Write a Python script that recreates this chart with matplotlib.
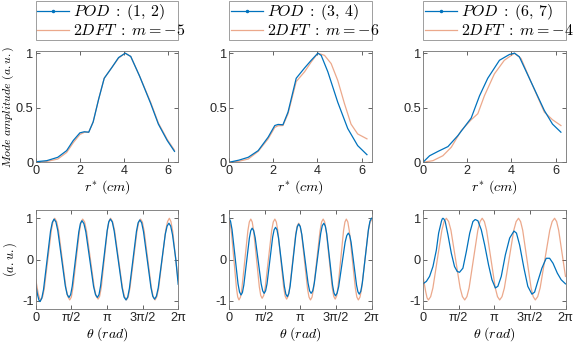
import matplotlib
matplotlib.use('Agg')
import matplotlib.pyplot as plt
from matplotlib.lines import Line2D
import numpy as np

plt.rcParams['font.family'] = ['Liberation Sans', 'DejaVu Sans']
plt.rcParams['mathtext.fontset'] = 'cm'

BLUE = '#0072BD'
ORANGE = '#D95319'

# leyendas
pod_labels = [r'$POD\;:\;(1,\,2)$', r'$POD\;:\;(3,\,4)$', r'$POD\;:\;(6,\,7)$']
dft_labels = [r'$2DFT\;:\;m=-5$', r'$2DFT\;:\;m=-6$', r'$2DFT\;:\;m=-4$']

# fila superior: amplitud radial vs r*
r_pod_1 = [0, 0.5, 1.0, 1.4, 1.7, 2.0, 2.2, 2.4, 2.6, 2.85, 3.1, 3.45, 3.75, 4.05, 4.3, 4.7, 5.2, 5.55, 5.95, 6.28]
a_pod_1 = [0.005, 0.015, 0.046, 0.107, 0.2, 0.27, 0.28, 0.276, 0.37, 0.58, 0.77, 0.87, 0.96, 1.0, 0.97, 0.79, 0.54, 0.35, 0.2, 0.1]
r_dft_1 = [0, 0.5, 1.0, 1.4, 1.7, 2.0, 2.2, 2.4, 2.6, 2.85, 3.1, 3.45, 3.75, 4.05, 4.3, 4.7, 5.2, 5.55, 5.95, 6.28]
a_dft_1 = [0.0, 0.008, 0.03, 0.09, 0.18, 0.255, 0.275, 0.276, 0.37, 0.58, 0.77, 0.87, 0.955, 1.0, 0.97, 0.79, 0.55, 0.36, 0.21, 0.11]

r_pod_2 = [0, 0.45, 0.87, 1.32, 1.77, 2.07, 2.22, 2.44, 2.67, 3.04, 3.42, 3.72, 4.02, 4.17, 4.47, 4.92, 5.37, 5.82, 6.24]
a_pod_2 = [0, 0.02, 0.046, 0.107, 0.23, 0.337, 0.347, 0.344, 0.46, 0.77, 0.865, 0.935, 1.0, 0.98, 0.83, 0.55, 0.31, 0.153, 0.07]
r_dft_2 = [0, 0.45, 0.87, 1.32, 1.77, 2.07, 2.22, 2.44, 2.67, 3.04, 3.42, 3.72, 4.02, 4.32, 4.62, 4.92, 5.22, 5.52, 5.82, 6.24]
a_dft_2 = [0, 0.01, 0.03, 0.1, 0.215, 0.32, 0.335, 0.337, 0.445, 0.74, 0.83, 0.92, 1.0, 0.98, 0.905, 0.75, 0.54, 0.35, 0.26, 0.215]

r_pod_3 = [0, 0.3, 0.68, 1.13, 1.58, 2.18, 2.56, 2.93, 3.46, 3.91, 4.14, 4.36, 4.89, 5.49, 5.86, 6.24]
a_pod_3 = [0, 0.06, 0.1, 0.144, 0.245, 0.405, 0.61, 0.77, 0.935, 0.988, 1.0, 0.967, 0.736, 0.475, 0.35, 0.276]
r_dft_3 = [0, 0.45, 0.9, 1.28, 1.73, 2.18, 2.48, 2.78, 3.23, 3.68, 4.14, 4.44, 4.89, 5.49, 5.86, 6.24]
a_dft_3 = [0, 0.015, 0.06, 0.138, 0.29, 0.39, 0.445, 0.61, 0.81, 0.935, 1.0, 0.95, 0.736, 0.46, 0.39, 0.337]

# fila inferior: modo azimutal vs theta
t_pod_1 = [0, 0.08, 0.14, 0.19, 0.2675, 0.345, 0.5, 0.655, 0.7325, 0.81, 0.8925, 0.975, 1.14, 1.305, 1.3875, 1.47,
           1.541, 1.61, 1.755, 1.9, 1.969, 2.04, 2.125, 2.21, 2.38, 2.55, 2.635, 2.72, 2.791, 2.86, 3.005, 3.15, 3.219,
           3.29, 3.376, 3.46, 3.635, 3.81, 3.894, 3.98, 4.056, 4.13, 4.285, 4.44, 4.514, 4.59, 4.671, 4.75, 4.915, 5.08,
           5.159, 5.24, 5.319, 5.4, 5.555, 5.71, 5.791, 5.87, 5.95, 6.03, 6.17, 6.28]
m_pod_1 = [-0.6, -0.85, -0.98, -1.02, -0.94, -0.73, -0.02, 0.69, 0.9, 0.98, 0.91, 0.7, 0.03, -0.64, -0.85, -0.92,
           -0.85, -0.65, 0.01, 0.67, 0.87, 0.94, 0.87, 0.67, 0.01, -0.65, -0.85, -0.92, -0.85, -0.64, 0.03, 0.7, 0.91,
           0.98, 0.91, 0.69, 0.0, -0.69, -0.91, -0.98, -0.91, -0.7, -0.01, 0.68, 0.89, 0.96, 0.89, 0.68, 0.0, -0.68,
           -0.89, -0.96, -0.89, -0.69, -0.04, 0.61, 0.81, 0.88, 0.81, 0.6, 0.03, -0.6]
t_dft_1 = [0, 0.11, 0.17, 0.23, 0.306, 0.38, 0.535, 0.69, 0.764, 0.84, 0.9225, 1.005, 1.17, 1.335, 1.4175, 1.5,
           1.571, 1.64, 1.785, 1.93, 1.999, 2.07, 2.155, 2.24, 2.41, 2.58, 2.665, 2.75, 2.819, 2.89, 3.025, 3.16, 3.231,
           3.3, 3.3875, 3.475, 3.65, 3.825, 3.9125, 4.0, 4.0775, 4.155, 4.31, 4.465, 4.5425, 4.62, 4.7, 4.78, 4.94, 5.1,
           5.18, 5.26, 5.339, 5.42, 5.575, 5.73, 5.811, 5.89, 5.96, 6.04, 6.17, 6.28]
m_dft_1 = [-0.48, -0.82, -0.94, -0.98, -0.9, -0.7, 0.01, 0.71, 0.92, 1.0, 0.92, 0.71, 0.01, -0.69, -0.9, -0.98,
           -0.91, -0.69, 0.0, 0.69, 0.91, 0.98, 0.91, 0.69, 0.01, -0.68, -0.89, -0.96, -0.89, -0.68, 0.02, 0.71, 0.93,
           1.0, 0.92, 0.71, 0.01, -0.69, -0.9, -0.98, -0.91, -0.69, 0.0, 0.69, 0.91, 0.98, 0.91, 0.69, 0.0, -0.69,
           -0.91, -0.98, -0.9, -0.69, 0.01, 0.71, 0.92, 1.0, 0.92, 0.68, 0.0, -0.5]

t_pod_2 = [0, 0.066, 0.1325, 0.265, 0.3975, 0.464, 0.53, 0.591, 0.6525, 0.775, 0.8975, 0.959, 1.02, 1.086, 1.1525, 1.285,
           1.4175, 1.484, 1.55, 1.6125, 1.675, 1.8, 1.925, 1.9875, 2.05, 2.115, 2.18, 2.31, 2.44, 2.505, 2.57, 2.6325,
           2.695, 2.82, 2.945, 3.0075, 3.07, 3.139, 3.2075, 3.345, 3.4825, 3.551, 3.62, 3.69, 3.76, 3.9, 4.04, 4.11,
           4.18, 4.244, 4.3075, 4.435, 4.5625, 4.626, 4.69, 4.761, 4.8325, 4.975, 5.1175, 5.189, 5.26, 5.32, 5.38, 5.5,
           5.62, 5.68, 5.74, 5.8075, 5.875, 6.01, 6.145, 6.2125, 6.28]
m_pod_2 = [1.0, 0.93, 0.73, 0.07, -0.59, -0.79, -0.86, -0.8, -0.62, -0.05, 0.52, 0.7, 0.76, 0.7, 0.53, -0.03,
           -0.59, -0.76, -0.82, -0.76, -0.59, -0.02, 0.55, 0.72, 0.78, 0.72, 0.53, -0.06, -0.65, -0.84, -0.9, -0.83,
           -0.64, -0.02, 0.6, 0.79, 0.86, 0.8, 0.61, 0.02, -0.57, -0.76, -0.82, -0.76, -0.57, 0.03, 0.63, 0.82,
           0.88, 0.81, 0.62, 0.0, -0.62, -0.81, -0.88, -0.82, -0.66, -0.12, 0.42, 0.58, 0.64, 0.58, 0.42, -0.1,
           -0.62, -0.78, -0.84, -0.77, -0.57, 0.08, 0.73, 0.93, 1.0]
t_dft_2 = [0, 0.055, 0.11, 0.22, 0.33, 0.385, 0.44, 0.505, 0.57, 0.7, 0.83, 0.895, 0.96, 1.0225, 1.085, 1.21,
           1.335, 1.3975, 1.46, 1.53, 1.6, 1.74, 1.88, 1.95, 2.02, 2.085, 2.15, 2.28, 2.41, 2.475, 2.54, 2.606,
           2.6725, 2.805, 2.9375, 3.004, 3.07, 3.135, 3.2, 3.33, 3.46, 3.525, 3.59, 3.66, 3.73, 3.87, 4.01, 4.08,
           4.15, 4.216, 4.2825, 4.415, 4.5475, 4.614, 4.68, 4.741, 4.8025, 4.925, 5.0475, 5.109, 5.17, 5.236, 5.3025, 5.435,
           5.5675, 5.634, 5.7, 5.7725, 5.845, 5.99, 6.135, 6.2075, 6.28]
m_dft_2 = [0.92, 0.85, 0.64, -0.03, -0.7, -0.91, -0.98, -0.91, -0.69, 0.0, 0.69, 0.91, 0.98, 0.91, 0.7, 0.02,
           -0.66, -0.87, -0.94, -0.87, -0.66, 0.02, 0.7, 0.91, 0.98, 0.91, 0.7, 0.01, -0.68, -0.89, -0.96, -0.89,
           -0.69, -0.04, 0.61, 0.81, 0.88, 0.81, 0.61, -0.05, -0.71, -0.91, -0.98, -0.91, -0.69, 0.0, 0.69, 0.91,
           0.98, 0.91, 0.7, 0.01, -0.68, -0.89, -0.96, -0.89, -0.67, 0.01, 0.7, 0.91, 0.98, 0.91, 0.69, 0.0,
           -0.69, -0.91, -0.98, -0.91, -0.7, -0.01, 0.68, 0.89, 0.96]

t_pod_3 = [0, 0.15, 0.29, 0.44, 0.59, 0.69, 0.81, 0.845, 0.88, 0.925, 0.98, 1.1, 1.25, 1.39, 1.51, 1.61, 1.76, 1.91,
           2.06, 2.2, 2.3, 2.42, 2.57, 2.72, 2.89, 3.04, 3.19, 3.3, 3.45, 3.63, 3.82, 4.01, 4.12, 4.26, 4.45, 4.62,
           4.8, 4.92, 5.06, 5.24, 5.43, 5.58, 5.73, 5.92, 6.09, 6.28]
m_pod_3 = [-0.59, -0.53, -0.41, -0.17, 0.23, 0.64, 0.92, 0.98, 1.0, 0.98, 0.92, 0.6, 0.15, -0.17, -0.29, -0.31, -0.21, 0.19,
           0.64, 0.92, 0.97, 0.94, 0.72, 0.35, -0.13, -0.49, -0.69, -0.65, -0.41, 0.11, 0.52, 0.69, 0.64, 0.35, -0.21, -0.65,
           -0.84, -0.79, -0.53, -0.21, 0.03, 0.03, -0.09, -0.33, -0.49, -0.59]
t_dft_3 = [0, 0.12, 0.18, 0.24, 0.339, 0.4375, 0.635, 0.8325, 0.931, 1.03, 1.131, 1.2325, 1.435, 1.6375, 1.739, 1.84,
           1.936, 2.0325, 2.225, 2.4175, 2.514, 2.61, 2.706, 2.8025, 2.995, 3.1875, 3.284, 3.38, 3.484, 3.5875, 3.795,
           4.0025, 4.106, 4.21, 4.3025, 4.395, 4.58, 4.765, 4.8575, 4.95, 5.056, 5.1625, 5.375, 5.5875, 5.694,
           5.8, 5.89, 5.98, 6.17, 6.28]
m_dft_3 = [-0.41, -0.78, -0.93, -0.98, -0.9, -0.69, 0.01, 0.71, 0.92, 1.0, 0.92, 0.71, 0.01, -0.69, -0.9, -0.98,
           -0.9, -0.69, 0.01, 0.71, 0.92, 1.0, 0.92, 0.71, 0.01, -0.69, -0.9, -0.98, -0.9, -0.69, 0.01,
           0.71, 0.92, 1.0, 0.92, 0.71, 0.01, -0.69, -0.9, -0.98, -0.9, -0.69, 0.01, 0.71, 0.92,
           1.0, 0.92, 0.71, 0.0, -0.41]

top_data = [(r_pod_1, a_pod_1, r_dft_1, a_dft_1), (r_pod_2, a_pod_2, r_dft_2, a_dft_2), (r_pod_3, a_pod_3, r_dft_3, a_dft_3)]
bot_data = [(t_pod_1, m_pod_1, t_dft_1, m_dft_1), (t_pod_2, m_pod_2, t_dft_2, m_dft_2), (t_pod_3, m_pod_3, t_dft_3, m_dft_3)]

theta_ticks = [0, np.pi/2, np.pi, 3*np.pi/2, 2*np.pi]
theta_labels = ['0', 'π/2', 'π', '3π/2', '2π']

fig = plt.figure(figsize=(5.86, 3.43), dpi=100)
lefts = [0.0609, 0.3908, 0.7218]
w = 0.2433

def style(ax):
    ax.tick_params(direction='in', top=True, right=True, length=3, width=0.5,
                   labelsize=9.2, colors='0.15', pad=2)
    ax.tick_params(axis='y', pad=1.5)
    for s in ax.spines.values():
        s.set_color('0.45')
        s.set_linewidth(0.6)

for i in range(3):
    ax = fig.add_axes([lefts[i], 0.5268, w, 0.3245])
    rp, ap, rd, ad = top_data[i]
    ax.plot(rd, ad, color=ORANGE, alpha=0.5, lw=0.9)
    ax.plot(rp, ap, color=BLUE, lw=0.9)
    ax.set_xlim(0, 6.45)
    ax.set_ylim(0, 1.02)
    ax.set_xticks([0, 2, 4, 6])
    ax.set_yticks([0, 0.5, 1])
    ax.set_yticklabels(['0', '0.5', '1'])
    ax.set_xlabel(r'$r^{*}\ (cm)$', fontsize=10, labelpad=1)
    style(ax)
    h = [Line2D([], [], color=BLUE, lw=0.9, marker='.', ms=3),
         Line2D([], [], color=ORANGE, alpha=0.5, lw=0.9)]
    leg = ax.legend(h, [pod_labels[i], dft_labels[i]], loc='lower left',
                    bbox_to_anchor=(0, 1.1, 1.0, 0.3), mode='expand',
                    fontsize=11.5, frameon=True, fancybox=False, borderpad=0.1,
                    handlelength=2.0, handletextpad=0.25, labelspacing=0.05, borderaxespad=0)
    leg.get_frame().set_edgecolor('0.45')
    leg.get_frame().set_linewidth(0.6)

    bx = fig.add_axes([lefts[i], 0.0991, w, 0.2886])
    tp, mp, td, md = bot_data[i]
    bx.plot(td, md, color=ORANGE, alpha=0.5, lw=0.9)
    bx.plot(tp, mp, color=BLUE, lw=0.9)
    bx.set_xlim(0, 2*np.pi)
    bx.set_ylim(-1.2, 1.2)
    bx.set_xticks(theta_ticks)
    bx.set_xticklabels(theta_labels)
    bx.set_yticks([-1, 0, 1])
    bx.set_yticklabels(['-1', '0', '1'])
    bx.set_xlabel(r'$\theta\ (rad)$', fontsize=10, labelpad=1)
    style(bx)

fig.text(0.0015, 0.689, r'$Mode\ amplitude\ (a.u.)$', rotation=90, fontsize=8.5,
         ha='left', va='center')
fig.text(0.017, 0.243, r'$(a.u.)$', rotation=90, fontsize=9, ha='center', va='center')

fig.savefig('out.png', dpi=100)
